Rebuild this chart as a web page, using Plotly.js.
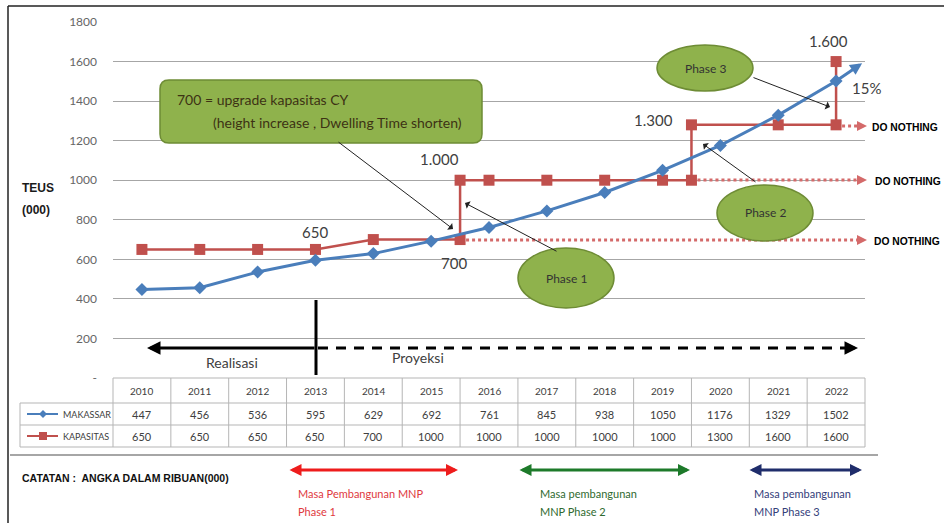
<!DOCTYPE html>
<html>
<head>
<meta charset="utf-8">
<script src="https://cdn.plot.ly/plotly-3.0.1.min.js"></script>
<style>html,body{margin:0;padding:0;background:#fff;}#chart{width:944px;height:523px;}</style>
</head>
<body>
<div id="chart"></div>
<script>
// ---------- data ----------
const years = [2010,2011,2012,2013,2014,2015,2016,2017,2018,2019,2020,2021,2022];
const makassar = [447,456,536,595,629,692,761,845,938,1050,1176,1329,1502];
const kapasitas = [650,650,650,650,700,1000,1000,1000,1000,1000,1300,1600,1600];
// capacity step line as drawn in the picture
const capX = [2010,2011,2012,2013,2014,2015.5,2015.5,2016,2017,2018,2019,2019.5,2019.5,2021,2022,2022];
const capY = [650,650,650,650,700,700,1000,1000,1000,1000,1000,1000,1280,1280,1280,1600];
const yTicks = [0,200,400,600,800,1000,1200,1400,1600,1800];
const yTickText = ['-','200','400','600','800','1000','1200','1400','1600','1800'];
const pointLabels = [
  {x:2013, y:650, text:'650'},
  {x:2015.5, y:700, text:'700'},
  {x:2015.5, y:1000, text:'1.000'},
  {x:2019.5, y:1280, text:'1.300'},
  {x:2022, y:1600, text:'1.600'}
];
const doNothingLevels = [700,1000,1280];
const doNothingStart = [2015.5,2019.5,2022];

// ---------- geometry helpers (pixel -> paper) ----------
const L=113, R=865, T=22, B=378;
const X = p => (p-L)/(R-L);
const Y = p => (B-p)/(B-T);
const FONT = 'Lato, "Open Sans", sans-serif';
const NARROW = '"Liberation Sans Narrow", "Liberation Sans", Arial, sans-serif';

const shapes = [];
const ann = [];
function line(x0,y0,x1,y1,color,w,dash){
  shapes.push({type:'line',xref:'paper',yref:'paper',x0:X(x0),y0:Y(y0),x1:X(x1),y1:Y(y1),
    line:{color:color,width:w,dash:dash||'solid'},layer:'above'});
}
function arrow(tx,ty,hx,hy,color,w,extra){
  ann.push(Object.assign({xref:'paper',yref:'paper',x:X(hx),y:Y(hy),ax:tx-hx,ay:ty-hy,
    axref:'pixel',ayref:'pixel',text:'',showarrow:true,arrowcolor:color,arrowwidth:w,
    arrowhead:2,arrowsize:1,standoff:0,startstandoff:0},extra||{}));
}
function txt(s,x,y,size,color,extra){
  ann.push(Object.assign({xref:'paper',yref:'paper',x:X(x),y:Y(y),text:s,showarrow:false,
    font:{family:FONT,size:size,color:color},xanchor:'center',yanchor:'middle'},extra||{}));
}
function roundRect(x0,y0,x1,y1,r){
  const a=X(x0),b=X(x1),c=Y(y0),d=Y(y1);
  const rx=r/(R-L), ry=r/(B-T);
  return `M${a+rx},${c} L${b-rx},${c} Q${b},${c} ${b},${c-ry} L${b},${d+ry} Q${b},${d} ${b-rx},${d} L${a+rx},${d} Q${a},${d} ${a},${d+ry} L${a},${c-ry} Q${a},${c} ${a+rx},${c} Z`;
}

// outer frame
line(8,6,944,6,'#222',1.5);
line(8,6,8,523,'#222',1.5);

// axis label
txt('<b>TEUS</b>',20,188,12,'#1a1a1a',{xanchor:'left',font:{family:NARROW,size:12,color:'#1a1a1a'}});
txt('<b>(000)</b>',20,210,12,'#1a1a1a',{xanchor:'left',font:{family:NARROW,size:12,color:'#1a1a1a'}});

// Realisasi / Proyeksi
line(316,300,316,375,'#000',3);
arrow(316,348,147,348,'#000',3,{arrowhead:2,arrowsize:0.9});
line(318,348,850,348,'#000',3,'10px,8px');
arrow(846,348,858,348,'#000',3,{arrowsize:0.9});
txt('Realisasi',232,362,14,'#404040');
txt('Proyeksi',418,357,14,'#404040');

// DO NOTHING dotted lines
const dnY = [239,179,125];
const dnTextX = [872,873,870];
doNothingLevels.forEach((lv,i)=>{
  const ys = dnY[i];
  const xs = L + (doNothingStart[i]-2009.5)*(R-L)/13;
  line(xs+6,ys+1,862,ys+1,'#d46a6a',3,'dot');
  arrow(858,ys+1,867,ys+1,'#d46a6a',2,{arrowsize:1});
  txt('<b>DO NOTHING</b>',dnTextX[i],ys+2,10,'#000',{xanchor:'left',font:{family:NARROW,size:10.3,color:'#000'}});
});

// callout box
shapes.push({type:'path',xref:'paper',yref:'paper',path:roundRect(160,80,482,143,9),
  fillcolor:'#8fb24c',line:{color:'#6e8c35',width:1.5},layer:'above'});
txt('700 = upgrade kapasitas CY',175,99,14,'#3d3214',{xanchor:'left'});
txt('(height increase , Dwelling Time shorten)',211,122,14,'#3d3214',{xanchor:'left'});
arrow(337,141,453,229,'#222',1,{arrowhead:1,arrowsize:1.4});

// phase ellipses
function ell(cx,cy,rx,ry,label){
  shapes.push({type:'circle',xref:'paper',yref:'paper',x0:X(cx-rx),x1:X(cx+rx),y0:Y(cy+ry),y1:Y(cy-ry),
    fillcolor:'#8fb24c',line:{color:'#6e8c35',width:1.5},layer:'above'});
  txt(label,cx,cy,12,'#333');
}
ell(566,278,48,30,'Phase 1');
ell(765,213,48,28,'Phase 2');
ell(705,68,48,23,'Phase 3');
arrow(558,252,465,203,'#222',1,{arrowhead:1,arrowsize:1.4});
arrow(757,183,703,144,'#222',1,{arrowhead:1,arrowsize:1.4});
arrow(752,77,830,107,'#222',1,{arrowhead:1,arrowsize:1.4});

// point labels
const lblOff = {'650':[0,-17],'700':[-6,23],'1.000':[-21,-21],'1.300':[-38,-5],'1.600':[-8,-21]};
pointLabels.forEach(p=>{
  const o = lblOff[p.text];
  ann.push({xref:'x',yref:'y',x:p.x,y:p.y,text:p.text,showarrow:false,xshift:o[0],yshift:-o[1],
    xanchor:'center',yanchor:'middle',font:{family:FONT,size:15,color:'#404040'}});
});
ann.push({xref:'x',yref:'y',x:2022,y:makassar[makassar.length-1],text:'15%',showarrow:false,xshift:30,yshift:-7,
  xanchor:'center',yanchor:'middle',font:{family:FONT,size:15,color:'#404040'}});
// blue arrow extension
ann.push({xref:'x',yref:'y',x:2022.45,y:1592,ax:2022,ay:makassar[makassar.length-1],axref:'x',ayref:'y',
  text:'',showarrow:true,arrowcolor:'#4a7ebb',arrowwidth:3,arrowhead:2,arrowsize:0.8,standoff:0});

// ---------- table ----------
const tGray = '#b5b5b5';
const rowLines = [403,425,447];
line(L,378,R,378,tGray,1);
rowLines.forEach(y=>line(20,y,R,y,tGray,1));
for(let k=0;k<=13;k++){
  const xp = L + k*(R-L)/13;
  line(xp,378,xp,447,tGray,1);
}
line(20,403,20,447,tGray,1);
years.forEach((yr,i)=>{
  ann.push({xref:'x',yref:'paper',x:yr,y:Y(391),text:String(yr),showarrow:false,xanchor:'center',yanchor:'middle',font:{family:FONT,size:10,color:'#404040'}});
  ann.push({xref:'x',yref:'paper',x:yr,y:Y(414),text:String(makassar[i]),showarrow:false,xanchor:'center',yanchor:'middle',font:{family:FONT,size:11,color:'#404040'}});
  ann.push({xref:'x',yref:'paper',x:yr,y:Y(436),text:String(kapasitas[i]),showarrow:false,xanchor:'center',yanchor:'middle',font:{family:FONT,size:11,color:'#404040'}});
});
// legend icons in table
line(27,414,58,414,'#4a7ebb',2);
shapes.push({type:'path',xref:'paper',yref:'paper',layer:'above',fillcolor:'#4a7ebb',line:{width:0},
  path:`M${X(43)},${Y(410)} L${X(47)},${Y(414)} L${X(43)},${Y(418)} L${X(39)},${Y(414)} Z`});
line(27,436,58,436,'#c0504d',2);
shapes.push({type:'rect',xref:'paper',yref:'paper',layer:'above',fillcolor:'#c0504d',line:{width:0},
  x0:X(39),x1:X(47),y0:Y(440),y1:Y(432)});
txt('MAKASSAR',61,414,9,'#404040',{xanchor:'left'});
txt('KAPASITAS',61,436,9,'#404040',{xanchor:'left'});

// ---------- notes ----------
line(10,455,878,455,'#a6a6a6',2);
txt('<b>CATATAN :  ANGKA DALAM RIBUAN(000)</b>',20,478,10,'#111',{xanchor:'left',font:{family:NARROW,size:10.5,color:'#111'}});
arrow(288,470,458,470,'#ee1c1c',3,{arrowside:'end+start',arrowsize:0.8});
arrow(518,470,690,470,'#1d7a2a',3,{arrowside:'end+start',arrowsize:0.8});
arrow(748,470,862,470,'#1f2d6b',3,{arrowside:'end+start',arrowsize:0.8});
txt('Masa Pembangunan MNP',296,493,11,'#e0393e',{xanchor:'left'});
txt('Phase 1',296,511,11,'#e0393e',{xanchor:'left'});
txt('Masa pembangunan',538,493,11,'#2f6a2f',{xanchor:'left'});
txt('MNP Phase 2',538,511,11,'#2f6a2f',{xanchor:'left'});
txt('Masa pembangunan',752,493,11,'#34407a',{xanchor:'left'});
txt('MNP Phase 3',752,511,11,'#34407a',{xanchor:'left'});

// ---------- traces ----------
const traces = [
  {type:'scatter',mode:'lines+markers',x:capX,y:capY,name:'KAPASITAS',
   line:{color:'#c0504d',width:2.5},marker:{symbol:'square',size:11,color:'#c0504d'},cliponaxis:false},
  {type:'scatter',mode:'lines+markers',x:years,y:makassar,name:'MAKASSAR',
   line:{color:'#4a7ebb',width:3},marker:{symbol:'diamond',size:10,color:'#4a7ebb'},cliponaxis:false}
];

const layout = {
  width:944,height:523,
  margin:{l:L,r:944-R,t:T,b:523-B,pad:0},
  paper_bgcolor:'#fff',plot_bgcolor:'#fff',
  showlegend:false,
  font:{family:FONT,color:'#404040'},
  xaxis:{range:[2009.5,2022.5],showticklabels:false,showgrid:false,zeroline:false,showline:false,ticks:'',fixedrange:true},
  yaxis:{range:[0,1800],tickvals:yTicks,ticktext:yTickText,showgrid:true,gridcolor:'#a6a6a6',gridwidth:1,
    zeroline:false,showline:false,ticks:'',ticklabelstandoff:15,
    tickfont:{family:FONT,size:12,color:'#666'},fixedrange:true},
  shapes:shapes,
  annotations:ann
};
Plotly.newPlot('chart',traces,layout,{staticPlot:true,displayModeBar:false});
</script>
</body>
</html>
